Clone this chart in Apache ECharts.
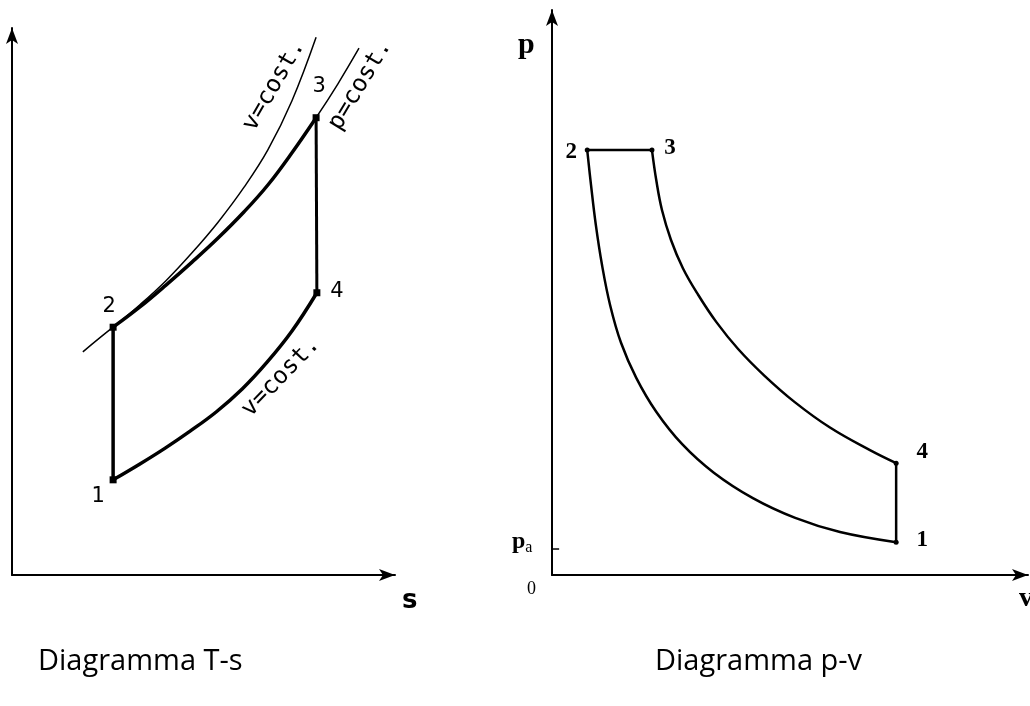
<!DOCTYPE html>
<html><head><meta charset="utf-8">
<script src="https://cdn.jsdelivr.net/npm/echarts@6/dist/echarts.min.js"></script>
<style>html,body{margin:0;padding:0;background:#fff}#c{width:1030px;height:706px}</style>
</head><body><div id="c"></div>
<script>
// ---------- T-s diagram (entropy s, temperature T; arbitrary units 0..10) ----------
const tsPointNames = ['1', '2', '3', '4'];
const tsPoints = [[2.64, 1.74], [2.64, 4.53], [7.94, 8.36], [7.96, 5.16]];
// isobar p = cost through 2 and 3 (thin, extended beyond the cycle)
const tsIsobarThin = [[1.85, 4.08], [2.64, 4.53], [3.34, 4.90], [4.02, 5.30], [4.70, 5.72], [5.38, 6.16], [6.06, 6.64], [6.68, 7.13], [7.31, 7.72], [7.94, 8.36], [8.51, 8.98], [9.06, 9.63]];
// heat addition 2 -> 3 (thick)
const tsHeat23 = [[2.64, 4.53], [3.34, 4.90], [4.02, 5.30], [4.70, 5.72], [5.38, 6.16], [6.06, 6.64], [6.68, 7.13], [7.31, 7.72], [7.94, 8.36]];
// isochore v = cost through 2 (thin)
const tsIsochore2 = [[2.64, 4.53], [3.34, 4.94], [4.02, 5.38], [4.70, 5.89], [5.38, 6.45], [6.06, 7.09], [6.68, 7.77], [7.31, 8.67], [7.94, 9.83]];
// isochore 4 -> 1 (thick)
const tsIsochore41 = [[2.64, 1.74], [3.34, 2.03], [4.00, 2.32], [4.65, 2.63], [5.33, 2.98], [6.01, 3.40], [6.66, 3.89], [7.31, 4.46], [7.96, 5.16]];
// curve captions: [s, T, text, rotation deg]
const tsCurveLabels = [[6.84, 8.95, 'v=cost.', 60], [9.09, 8.96, 'p=cost.', 59], [7.02, 3.62, 'v=cost.', 46]];

// ---------- p-v diagram (volume v, pressure p; arbitrary units 0..10) ----------
const pvPointNames = ['1', '2', '3', '4'];
const pvPoints = [[7.23, 0.58], [0.74, 7.52], [2.10, 7.52], [7.23, 1.98]];
// compression 1 -> 2
const pvCompression = [[7.23, 0.58], [6.05, 0.76], [5.11, 1.01], [4.22, 1.36], [3.40, 1.81], [2.73, 2.32], [2.19, 2.89], [1.77, 3.49], [1.45, 4.11], [1.22, 4.78], [1.05, 5.49], [0.92, 6.20], [0.82, 6.90], [0.74, 7.52]];
// expansion 3 -> 4
const pvExpansion = [[2.10, 7.52], [2.19, 6.99], [2.31, 6.46], [2.50, 5.93], [2.75, 5.43], [3.07, 4.96], [3.45, 4.48], [3.91, 4.00], [4.46, 3.53], [5.10, 3.06], [5.84, 2.61], [6.68, 2.21], [7.23, 1.98]];
const pvPa = 0.46;

const BLACK = '#000';
const chart = echarts.init(document.getElementById('c'));

function axis(grid) {
  return {type: 'value', gridIndex: grid, min: 0, max: 10, show: true,
    axisLine: {show: true, onZero: false, lineStyle: {color: BLACK, width: 2}, symbol: ['none', 'arrow'], symbolSize: [9, 16]},
    axisTick: {show: false}, axisLabel: {show: false}, splitLine: {show: false}};
}
function line(idx, data, width, smooth) {
  return {type: 'line', xAxisIndex: idx, yAxisIndex: idx, data: data, smooth: smooth === undefined ? 0.4 : smooth, showSymbol: false,
    symbol: 'none', lineStyle: {color: BLACK, width: width}, silent: true, animation: false, z: 3};
}
function pointSeries(idx, pts, names, size, symbol, offsets, font) {
  return {type: 'scatter', xAxisIndex: idx, yAxisIndex: idx, symbol: symbol, symbolSize: size,
    itemStyle: {color: BLACK, opacity: 1}, animation: false, silent: true, z: 5,
    data: pts.map((p, i) => ({value: p, label: {show: true, position: 'inside', offset: offsets[i], formatter: names[i],
      color: BLACK, opacity: 1, textBorderWidth: 0, fontFamily: font.family, fontSize: font.size, fontWeight: font.weight}}))};
}

const tsOffsets = [[-15, 17], [-4, -21], [3, -31], [20, -1]];
const pvOffsets = [[26, -2], [-16, 2], [18, -2], [26, -11]];

chart.setOption({
  animation: false,
  backgroundColor: '#fff',
  grid: [
    {left: 12, top: 28, width: 383, height: 547},
    {left: 552, top: 10, width: 476, height: 565}
  ],
  xAxis: [axis(0), axis(1)],
  yAxis: [axis(0), axis(1)],
  series: [
    line(0, tsIsobarThin, 1.5),
    line(0, tsIsochore2, 1.5),
    line(0, tsHeat23, 3.5),
    line(0, tsIsochore41, 3.5),
    line(0, [tsPoints[0], tsPoints[1]], 3.5, false),
    line(0, [tsPoints[2], tsPoints[3]], 3, false),
    pointSeries(0, tsPoints, tsPointNames, 7, 'rect', tsOffsets, {family: 'DejaVu Sans', size: 21, weight: 'normal'}),
    {type: 'scatter', xAxisIndex: 0, yAxisIndex: 0, symbolSize: 0, animation: false, silent: true, itemStyle: {opacity: 1},
      data: tsCurveLabels.map(d => ({value: [d[0], d[1]], label: {show: true, position: 'inside', formatter: d[2], rotate: d[3],
        color: BLACK, opacity: 1, textBorderWidth: 0, fontFamily: 'DejaVu Sans Mono', fontSize: 24}}))},
    line(1, pvCompression, 2.5),
    line(1, pvExpansion, 2.5),
    line(1, [pvPoints[1], pvPoints[2]], 2.5, false),
    line(1, [pvPoints[3], pvPoints[0]], 2.5, false),
    pointSeries(1, pvPoints, pvPointNames, 5, 'circle', pvOffsets, {family: 'Liberation Serif', size: 23, weight: 'bold'}),
    {type: 'line', xAxisIndex: 1, yAxisIndex: 1, data: [[-0.15, pvPa], [0.15, pvPa]], clip: false, showSymbol: false,
      lineStyle: {color: BLACK, width: 1.5}, animation: false, silent: true}
  ],
  graphic: [
    {type: 'text', left: 402, top: 588, style: {text: 's', font: 'bold 26px "DejaVu Sans"', fill: BLACK}},
    {type: 'text', left: 518, top: 30, style: {text: 'p', font: 'bold 30px "Liberation Serif"', fill: BLACK}},
    {type: 'text', left: 1019, top: 585, style: {text: 'v', font: 'bold 28px "Liberation Serif"', fill: BLACK}},
    {type: 'text', left: 527, top: 580, style: {text: '0', font: '18px "Liberation Serif"', fill: BLACK}},
    {type: 'text', left: 512, top: 530, style: {text: '{p|p}{a|a}', rich: {p: {font: 'bold 24px "Liberation Serif"', fill: BLACK}, a: {font: '16px "Liberation Serif"', fill: BLACK, padding: [12, 0, 0, 0]}}}},
    {type: 'text', left: 38, top: 647, style: {text: 'Diagramma T-s', font: '29px "Open Sans"', fill: BLACK}},
    {type: 'text', left: 655, top: 647, style: {text: 'Diagramma p-v', font: '29px "Open Sans"', fill: BLACK}}
  ]
});
</script></body></html>
